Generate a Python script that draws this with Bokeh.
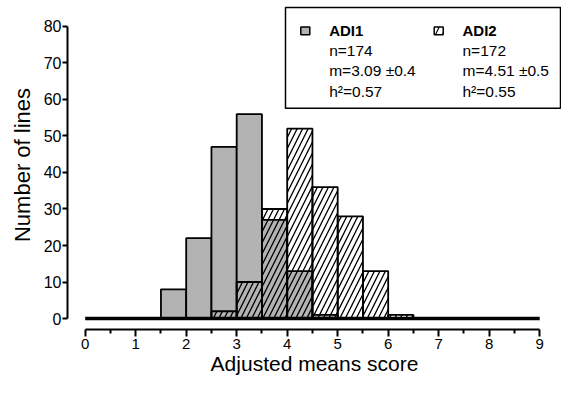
from bokeh.plotting import figure
from bokeh.models import FixedTicker, BoxAnnotation, Label, Range1d
from bokeh.embed import file_html
from bokeh.resources import INLINE

# ---------------- data ----------------
bin_width = 0.5
adi1_left = [1.5, 2.0, 2.5, 3.0, 3.5, 4.0, 4.5]
adi1_count = [8, 22, 47, 56, 27, 13, 1]
adi2_left = [2.5, 3.0, 3.5, 4.0, 4.5, 5.0, 5.5, 6.0]
adi2_count = [2, 10, 30, 52, 36, 28, 13, 1]

x_ticks = [0, 1, 2, 3, 4, 5, 6, 7, 8, 9]
x_minor_ticks = [0.5, 1.5, 2.5, 3.5, 4.5, 5.5, 6.5, 7.5, 8.5]
y_ticks = [0, 10, 20, 30, 40, 50, 60, 70, 80]

series_names = ["ADI1", "ADI2"]
series_stats = [
    ["n=174", "m=3.09 \u00b10.4", "h\u00b2=0.57"],
    ["n=172", "m=4.51 \u00b10.5", "h\u00b2=0.55"],
]

x_label = "Adjusted means score"
y_label = "Number of lines"

FONT = "Liberation Sans"
GRAY = "#b3b3b3"

# ---------------- geometry (canvas px -> data) ----------------
W, H = 561, 377
X0_PX, PX_PER_X = 84.7, 50.5
Y0_PX, PX_PER_Y = 319.0, 3.6625
FRAME_LEFT_PX, FRAME_RIGHT_PX = 67.0, 561.0
FRAME_TOP_PX, FRAME_BOTTOM_PX = 0.0, 330.0


def dx(px):
    return (px - X0_PX) / PX_PER_X


def dy(py):
    return (Y0_PX - py) / PX_PER_Y


p = figure(
    width=W, height=H,
    x_range=Range1d(dx(FRAME_LEFT_PX), dx(FRAME_RIGHT_PX)),
    y_range=Range1d(dy(FRAME_BOTTOM_PX), dy(FRAME_TOP_PX)),
    output_backend="svg", toolbar_location=None,
    min_border_left=int(FRAME_LEFT_PX), min_border_right=int(W - FRAME_RIGHT_PX),
    min_border_top=int(FRAME_TOP_PX), min_border_bottom=int(H - FRAME_BOTTOM_PX),
)
p.outline_line_color = None
p.xgrid.visible = False
p.ygrid.visible = False
p.background_fill_color = "white"
p.border_fill_color = "white"

# bars
adi1_center = [l + bin_width / 2 for l in adi1_left]
adi2_center = [l + bin_width / 2 for l in adi2_left]

p.vbar(x=adi1_center, width=bin_width, top=adi1_count, bottom=0,
       fill_color=GRAY, line_color="black", line_width=1.8)
p.vbar(x=adi2_center, width=bin_width, top=adi2_count, bottom=0,
       fill_color="white", fill_alpha=0, line_color="black", line_width=1.8,
       hatch_pattern="/", hatch_color="black", hatch_scale=11, hatch_weight=1.3)

# baseline
p.line(x=[x_ticks[0], x_ticks[-1]], y=[0, 0], line_color="black", line_width=3.5)

# axes
xa = p.xaxis[0]
xa.ticker = FixedTicker(ticks=x_ticks, minor_ticks=x_minor_ticks)
xa.bounds = (x_ticks[0], x_ticks[-1])
xa.axis_line_width = 2
xa.major_tick_line_width = 2
xa.minor_tick_line_width = 2
xa.major_tick_out = 7
xa.major_tick_in = 0
xa.minor_tick_out = 4
xa.minor_tick_in = 0
xa.major_label_text_font = FONT
xa.major_label_text_font_size = "15px"
xa.major_label_text_color = "black"
xa.major_label_standoff = 2
xa.axis_label = x_label
xa.axis_label_text_font = FONT
xa.axis_label_text_font_size = "21px"
xa.axis_label_text_font_style = "normal"
xa.axis_label_text_color = "black"
xa.axis_label_standoff = 0

ya = p.yaxis[0]
ya.ticker = FixedTicker(ticks=y_ticks, minor_ticks=[])
ya.bounds = (y_ticks[0], y_ticks[-1])
ya.axis_line_width = 2
ya.major_tick_line_width = 2
ya.major_tick_out = 5
ya.major_tick_in = 0
ya.minor_tick_out = 0
ya.minor_tick_in = 0
ya.major_label_text_font = FONT
ya.major_label_text_font_size = "16px"
ya.major_label_text_color = "black"
ya.major_label_standoff = 1
ya.axis_label = y_label
ya.axis_label_text_font = FONT
ya.axis_label_text_font_size = "22px"
ya.axis_label_text_font_style = "normal"
ya.axis_label_text_color = "black"
ya.axis_label_standoff = 6

# legend box (shifted left slightly so it fits the canvas)
LEG_SHIFT = -8
p.add_layout(BoxAnnotation(left=dx(293 + LEG_SHIFT), right=dx(568 + LEG_SHIFT),
                           top=dy(7), bottom=dy(108),
                           fill_color="white", fill_alpha=1,
                           line_color="black", line_width=1.5, line_alpha=1))

swatch_x = [308.3 + LEG_SHIFT, 441.7 + LEG_SHIFT]
text_x = [336.7 + LEG_SHIFT, 470.0 + LEG_SHIFT]
row_y = [30.0, 50.0, 70.5, 90.8]

for i, name in enumerate(series_names):
    box_kw = dict(left=dx(swatch_x[i]), right=dx(swatch_x[i] + 9),
                  top=dy(26.7), bottom=dy(34.3),
                  line_color="black", line_width=1.5, line_alpha=1)
    if i == 0:
        p.add_layout(BoxAnnotation(fill_color=GRAY, fill_alpha=1, **box_kw))
    else:
        p.add_layout(BoxAnnotation(fill_color="white", fill_alpha=1,
                                   hatch_pattern="/", hatch_color="black",
                                   hatch_scale=14, hatch_weight=1.2, **box_kw))
    p.add_layout(Label(x=dx(text_x[i]), y=dy(row_y[0]), text=name,
                       text_font=FONT, text_font_size="15px", text_font_style="bold",
                       text_baseline="middle", text_align="left", text_color="black"))
    for j, s in enumerate(series_stats[i]):
        p.add_layout(Label(x=dx(text_x[i]), y=dy(row_y[j + 1]), text=s,
                           text_font=FONT, text_font_size="15.5px",
                           text_baseline="middle", text_align="left", text_color="black"))

open("out.html", "w").write(file_html(p, INLINE))
